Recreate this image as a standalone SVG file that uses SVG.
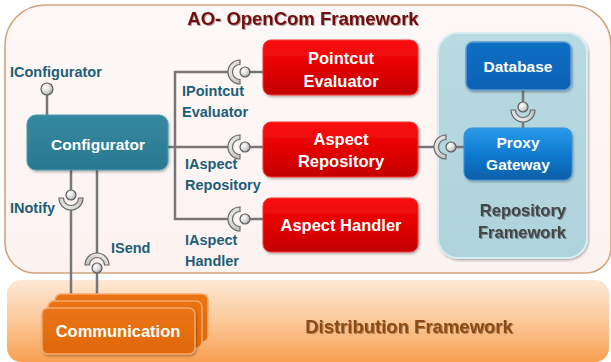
<svg xmlns="http://www.w3.org/2000/svg" width="611" height="362" viewBox="0 0 611 362">
  <defs>
    <linearGradient id="gFrame" x1="0" y1="0" x2="0" y2="1">
      <stop offset="0" stop-color="#fdf8f7"/>
      <stop offset="1" stop-color="#fcf3f1"/>
    </linearGradient>
    <linearGradient id="gDist" x1="0" y1="0" x2="0" y2="1">
      <stop offset="0" stop-color="#fde8d6"/>
      <stop offset="0.5" stop-color="#fcc899"/>
      <stop offset="1" stop-color="#f7a050"/>
    </linearGradient>
    <linearGradient id="gRed" x1="0" y1="0" x2="0" y2="1">
      <stop offset="0" stop-color="#fb1010"/>
      <stop offset="0.5" stop-color="#e40000"/>
      <stop offset="1" stop-color="#c20000"/>
    </linearGradient>
    <linearGradient id="gTeal" x1="0" y1="0" x2="0" y2="1">
      <stop offset="0" stop-color="#3489a0"/>
      <stop offset="1" stop-color="#2a7891"/>
    </linearGradient>
    <linearGradient id="gDb" x1="0" y1="0" x2="0" y2="1">
      <stop offset="0" stop-color="#0b6fc4"/>
      <stop offset="1" stop-color="#0862b4"/>
    </linearGradient>
    <linearGradient id="gProxy" x1="0" y1="0" x2="0" y2="1">
      <stop offset="0" stop-color="#2a9ae8"/>
      <stop offset="0.5" stop-color="#107bd0"/>
      <stop offset="1" stop-color="#0a5ea8"/>
    </linearGradient>
    <linearGradient id="gComm" x1="0" y1="0" x2="0" y2="1">
      <stop offset="0" stop-color="#ea7414"/>
      <stop offset="1" stop-color="#e0680c"/>
    </linearGradient>
    <linearGradient id="gRepo" x1="0" y1="0" x2="0" y2="1">
      <stop offset="0" stop-color="#b8dae2"/>
      <stop offset="1" stop-color="#afd3dc"/>
    </linearGradient>
    <radialGradient id="gBall" cx="0.35" cy="0.35" r="0.7">
      <stop offset="0" stop-color="#ffffff"/>
      <stop offset="0.6" stop-color="#d9d9d9"/>
      <stop offset="1" stop-color="#9a9a9a"/>
    </radialGradient>
    <linearGradient id="gCup" x1="0" y1="0" x2="1" y2="1">
      <stop offset="0" stop-color="#f4f4f4"/>
      <stop offset="1" stop-color="#bdbdbd"/>
    </linearGradient>
    <filter id="shadow" x="-10%" y="-10%" width="130%" height="130%">
      <feDropShadow dx="1" dy="1.5" stdDeviation="1.2" flood-color="#000" flood-opacity="0.3"/>
    </filter>
    <filter id="tshadow" x="-5%" y="-20%" width="110%" height="150%">
      <feDropShadow dx="1" dy="1" stdDeviation="0.6" flood-color="#000" flood-opacity="0.35"/>
    </filter>
    <!-- socket: half annulus opening to +x, centred on 0,0 -->
    <path id="cup" d="M0,-12 A12,12 0 0 0 0,12 L0,7.5 A7.5,7.5 0 0 1 0,-7.5 Z"/>
  </defs>
  <style>
    .lbl { font-family: "Liberation Sans", Arial, sans-serif; font-weight: bold; font-size: 14.5px; fill: #1d5e78; }
    .wt { font-family: "Liberation Sans", Arial, sans-serif; font-weight: bold; fill: #ffffff; text-anchor: middle; }
    .wire { stroke: #777777; stroke-width: 2.5; fill: none; }
    .ball { fill: url(#gBall); stroke: #5e5e5e; stroke-width: 1.2; }
    .sock { fill: url(#gCup); stroke: #6a6a6a; stroke-width: 1.2; }
  </style>

  <rect width="611" height="362" fill="#ffffff"/>

  <!-- AO-OpenCom framework container -->
  <g id="ao-opencom">
    <path d="M45,5 H571 A40,40 0 0 1 611,45 V248 A25,25 0 0 1 586,273 H35 A30,30 0 0 1 5,243 V45 A40,40 0 0 1 45,5 Z" fill="url(#gFrame)" stroke="#cfa57c" stroke-width="1.6"/>
    <text x="303" y="25" text-anchor="middle" font-family="Liberation Sans, Arial, sans-serif" font-weight="bold" font-size="18.5" fill="#720c0c" filter="url(#tshadow)">AO- OpenCom Framework</text>
  </g>

  <!-- Distribution framework band -->
  <g id="distribution">
    <rect x="7" y="280" width="602" height="82" rx="14" fill="url(#gDist)"/>
    <text x="409" y="333" text-anchor="middle" font-family="Liberation Sans, Arial, sans-serif" font-weight="bold" font-size="18.5" fill="#8c4c12" filter="url(#tshadow)">Distribution Framework</text>
  </g>

  <!-- Repository framework panel -->
  <g id="repository-framework">
    <rect x="438" y="33" width="149" height="225" rx="20" fill="url(#gRepo)" stroke="#d6edf1" stroke-width="2" filter="url(#shadow)"/>
    <text x="566" y="216" text-anchor="end" font-family="Liberation Sans, Arial, sans-serif" font-weight="bold" font-size="16.5" fill="#444444" filter="url(#tshadow)">Repository</text>
    <text x="566" y="238" text-anchor="end" font-family="Liberation Sans, Arial, sans-serif" font-weight="bold" font-size="16.5" fill="#444444" filter="url(#tshadow)">Framework</text>
  </g>

  <!-- connectors -->
  <g id="connectors">
    <!-- configurator interface bus -->
    <polyline class="wire" points="229,72 175,72 175,219 229,219"/>
    <line class="wire" x1="168" y1="147" x2="229" y2="147"/>
    <line class="wire" x1="249" y1="72" x2="263" y2="72"/>
    <line class="wire" x1="249" y1="147" x2="263" y2="147"/>
    <line class="wire" x1="249" y1="219" x2="263" y2="219"/>
    <!-- repository to proxy -->
    <line class="wire" x1="418" y1="147" x2="435" y2="147"/>
    <line class="wire" x1="454" y1="147" x2="464" y2="147"/>
    <!-- database to proxy -->
    <line class="wire" x1="523" y1="90" x2="523" y2="103"/>
    <line class="wire" x1="523" y1="120" x2="523" y2="128"/>
    <!-- IConfigurator -->
    <line class="wire" x1="47" y1="95" x2="47" y2="115"/>
    <!-- INotify -->
    <line class="wire" x1="71" y1="170" x2="71" y2="190"/>
    <line class="wire" x1="71" y1="208" x2="71" y2="294"/>
    <!-- ISend -->
    <line class="wire" x1="97" y1="170" x2="97" y2="255"/>
    <line class="wire" x1="97" y1="272" x2="97" y2="294"/>

    <!-- sockets and balls -->
    <use href="#cup" class="sock" transform="translate(240,72)"/>
    <circle class="ball" cx="245" cy="72" r="5"/>
    <use href="#cup" class="sock" transform="translate(240,147)"/>
    <circle class="ball" cx="245" cy="147" r="5"/>
    <use href="#cup" class="sock" transform="translate(240,219)"/>
    <circle class="ball" cx="245" cy="219" r="5"/>
    <use href="#cup" class="sock" transform="translate(446,147)"/>
    <circle class="ball" cx="451" cy="147" r="5"/>
    <use href="#cup" class="sock" transform="translate(523,110) rotate(-90)"/>
    <circle class="ball" cx="523" cy="107" r="5"/>
    <use href="#cup" class="sock" transform="translate(71,198) rotate(-90)"/>
    <circle class="ball" cx="71" cy="195" r="5"/>
    <use href="#cup" class="sock" transform="translate(97,265) rotate(90)"/>
    <circle class="ball" cx="97" cy="268" r="5"/>
    <circle class="ball" cx="47" cy="89" r="6"/>
  </g>

  <!-- interface labels -->
  <g id="labels">
    <text class="lbl" x="10" y="77">IConfigurator</text>
    <text class="lbl" x="182" y="96">IPointcut</text>
    <text class="lbl" x="182" y="117">Evaluator</text>
    <text class="lbl" x="185" y="169">IAspect</text>
    <text class="lbl" x="185" y="190">Repository</text>
    <text class="lbl" x="185" y="245">IAspect</text>
    <text class="lbl" x="185" y="266">Handler</text>
    <text class="lbl" x="10" y="213">INotify</text>
    <text class="lbl" x="111" y="253">ISend</text>
  </g>

  <g id="configurator">
    <rect x="27" y="115" width="141" height="55" rx="9" fill="url(#gTeal)" stroke="#4b9db2" stroke-width="1" filter="url(#shadow)"/>
    <text class="wt" x="98" y="150" font-size="15.5">Configurator</text>
  </g>

  <g id="pointcut-evaluator">
    <rect x="263" y="40" width="155" height="55" rx="8" fill="url(#gRed)" stroke="#f03a3a" stroke-width="1" filter="url(#shadow)"/>
    <text class="wt" x="341" y="64" font-size="16.5">Pointcut</text>
    <text class="wt" x="341" y="87" font-size="16.5">Evaluator</text>
  </g>

  <g id="aspect-repository">
    <rect x="263" y="122" width="155" height="55" rx="8" fill="url(#gRed)" stroke="#f03a3a" stroke-width="1" filter="url(#shadow)"/>
    <text class="wt" x="341" y="145" font-size="16.5">Aspect</text>
    <text class="wt" x="341" y="167" font-size="16.5">Repository</text>
  </g>

  <g id="aspect-handler">
    <rect x="263" y="198" width="155" height="54" rx="8" fill="url(#gRed)" stroke="#f03a3a" stroke-width="1" filter="url(#shadow)"/>
    <text class="wt" x="341" y="231" font-size="16.5">Aspect Handler</text>
  </g>

  <g id="database">
    <rect x="466" y="42" width="105" height="48" rx="7" fill="url(#gDb)" stroke="#5b9bd6" stroke-width="1.5" filter="url(#shadow)"/>
    <text class="wt" x="518" y="72" font-size="15.5">Database</text>
  </g>

  <g id="proxy-gateway">
    <rect x="464" y="128" width="108" height="52" rx="8" fill="url(#gProxy)" stroke="#3d8fd6" stroke-width="1" filter="url(#shadow)"/>
    <text class="wt" x="518" y="148" font-size="15.5">Proxy</text>
    <text class="wt" x="518" y="170" font-size="15.5">Gateway</text>
  </g>

  <g id="communication">
    <rect x="55" y="294" width="153" height="48" rx="6" fill="url(#gComm)" stroke="#f6a868" stroke-width="1.5"/>
    <rect x="48" y="301" width="154" height="47" rx="6" fill="url(#gComm)" stroke="#f6a868" stroke-width="1.5"/>
    <rect x="42" y="308" width="153" height="46" rx="6" fill="url(#gComm)" stroke="#f6a868" stroke-width="1.5" filter="url(#shadow)"/>
    <text class="wt" x="118" y="337" font-size="16.5">Communication</text>
  </g>
</svg>
